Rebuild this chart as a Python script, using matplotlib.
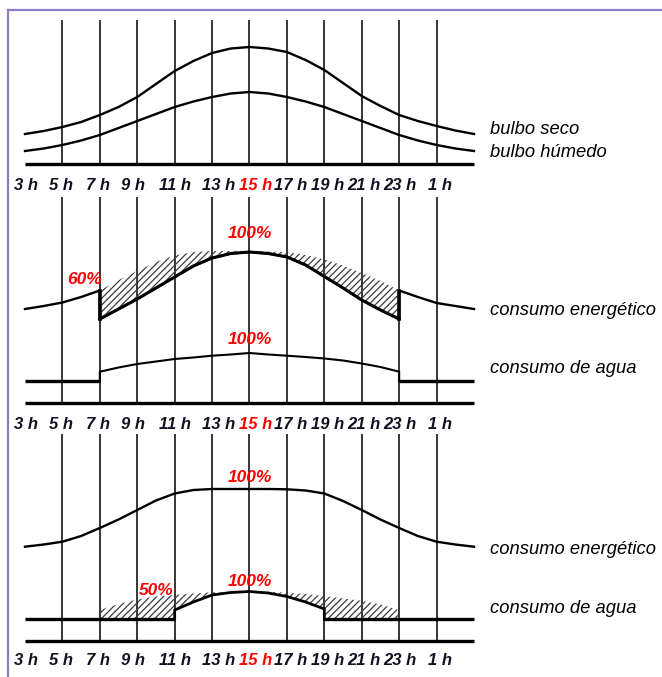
import matplotlib
matplotlib.use("Agg")
import matplotlib.pyplot as plt
from matplotlib.lines import Line2D

# ---------------- data ----------------
hours = list(range(3, 28))                      # 3 h .. 3 h (next day)
tick_hours = list(range(3, 27, 2))
tick_labels = ["3 h", "5 h", "7 h", "9 h", "11 h", "13 h", "15 h",
               "17 h", "19 h", "21 h", "23 h", "1 h"]
grid_hours = list(range(5, 27, 2))

# panel 1 : temperatures (relative units)
bulbo_seco = [30, 33, 37, 42, 49, 57, 67, 80, 93, 103, 111, 115.5, 117,
              115.5, 112, 104, 94, 81, 68, 58, 49, 43, 38, 33.5, 30]
bulbo_humedo = [13, 15.5, 19, 23.5, 29, 36, 43, 50, 57, 62.5, 67, 70.5, 72,
                70.5, 67, 62.5, 57, 50, 43, 36, 29, 23.5, 19, 15.5, 13]

# panel 2 : consumption with reduced daytime energy
p2_energia_base = [94, 97, 100.5, 106, 112.5, 123, 132, 141, 147.5, 151, 152,
                   152, 151.5, 151.5, 151, 148, 143.5, 137.5, 130, 122, 112.5,
                   106, 100, 97, 94]
p2_dia_hours = list(range(7, 24))
p2_energia_red = [84, 94, 104, 115, 126, 137, 145, 149.5, 151, 149.5, 146,
                  138, 126.5, 115, 103, 93, 84]
p2_agua_noche = 22
p2_agua_dia = [31.3, 35.5, 39, 41.5, 44, 45.5, 47.3, 48.5, 50, 48.5, 47.3,
               46, 44.5, 42.5, 39.5, 36, 31.3]

# panel 3 : constant energy, reduced water
p3_energia = [94.3, 96.5, 99.3, 105, 113, 121.5, 131, 140.5, 147.5, 151, 152,
              152, 152, 152, 151.7, 150.5, 147.5, 140, 131, 121.5, 113, 105,
              99.3, 96.5, 94.3]
p3_agua_noche = 21.7
p3_agua_dia_hours = list(range(11, 20))
p3_agua_dia = [31, 39, 46, 48.5, 49.5, 48, 44.5, 39, 32]
p3_agua_base_hours = list(range(7, 24))
p3_agua_base = [31, 37, 41.5, 44.5, 46, 47.5, 48.7, 49.3, 49.5, 49.2, 48.3,
                47, 45, 42.5, 40.3, 36.5, 31]

# ---------------- layout ----------------
W, H = 662, 677
fig = plt.figure(figsize=(W / 100, H / 100), dpi=100)
plt.rcParams['font.family'] = ['Liberation Sans', 'DejaVu Sans']
plt.rcParams['hatch.linewidth'] = 0.9

X0, X1 = 25, 474
RED = '#ff0000'
TXT = '#111122'
HATCH = '#3c3c3c'
# small horizontal nudges (px) of the hour labels as placed in the original
label_nudge = [0.5, -1.3, -2, -4.3, 0, 6.5, 6, 4, 3, 2, 1, 3]


def make_panel(top_px, base_px):
    ax = fig.add_axes([X0 / W, 1 - base_px / H, (X1 - X0) / W,
                       (base_px - top_px) / H])
    ax.set_xlim(3, 27)
    ax.set_ylim(0, base_px - top_px)
    ax.axis('off')
    ax.vlines(grid_hours, 0, base_px - top_px, color='black', lw=1.1,
              zorder=1, clip_on=False)
    ax.plot([3, 27], [0, 0], color='black', lw=2.4, solid_capstyle='butt',
            zorder=4, clip_on=False)
    return ax


def hour_row(base_px):
    for h, lab, dx in zip(tick_hours, tick_labels, label_nudge):
        xp = X0 + (h - 3) / 24 * (X1 - X0) + dx
        fig.text(xp / W, 1 - base_px / H, lab, ha='center', va='baseline',
                 fontsize=12, fontweight='bold', fontstyle='italic',
                 color=RED if lab == "15 h" else TXT)


def side_label(base_px, s):
    fig.text(490 / W, 1 - base_px / H, s, ha='left', va='baseline',
             fontsize=13.2, fontstyle='italic', color='black')


def pct(ax, x, y, s):
    ax.text(x, y, s, ha='center', va='baseline', fontsize=12.5,
            fontweight='bold', fontstyle='italic', color=RED, zorder=6)


# ----- panel 1 -----
ax1 = make_panel(20, 164)
ax1.plot(hours, bulbo_seco, color='black', lw=1.7, zorder=3, clip_on=False)
ax1.plot(hours, bulbo_humedo, color='black', lw=1.7, zorder=3, clip_on=False)
hour_row(190.5)
side_label(133.5, "bulbo seco")
side_label(157, "bulbo húmedo")

# ----- panel 2 -----
B2 = 403
ax2 = make_panel(197, B2)
base_dia = p2_energia_base[4:21]
ax2.fill_between(p2_dia_hours, p2_energia_red, base_dia, facecolor='none',
                 edgecolor=HATCH, hatch='/////', lw=0, zorder=2)
ex = hours[:5] + p2_dia_hours + hours[20:]
ey = p2_energia_base[:5] + p2_energia_red + p2_energia_base[20:]
ax2.plot(ex, ey, color='black', lw=1.7, zorder=3, clip_on=False)
ax2.plot([7, 7], [p2_energia_red[0], p2_energia_base[4]], color='black',
         lw=2.6, zorder=3)
ax2.plot([23, 23], [p2_energia_red[-1], p2_energia_base[20]], color='black',
         lw=2.6, zorder=3)
ax2.plot(p2_dia_hours, p2_energia_red, color='black', lw=2.2, zorder=3)
# water
ax2.plot([3, 7], [p2_agua_noche] * 2, color='black', lw=2.4, zorder=3,
         solid_capstyle='butt', clip_on=False)
ax2.plot([23, 27], [p2_agua_noche] * 2, color='black', lw=2.4, zorder=3,
         solid_capstyle='butt', clip_on=False)
ax2.plot([7] + p2_dia_hours + [23],
         [p2_agua_noche] + p2_agua_dia + [p2_agua_noche],
         color='black', lw=1.5, zorder=3)
pct(ax2, 15, B2 - 238.5, "100%")
pct(ax2, 15, B2 - 344, "100%")
pct(ax2, 6.2, B2 - 283.5, "60%")
hour_row(429)
side_label(315, "consumo energético")
side_label(373.5, "consumo de agua")

# ----- panel 3 -----
B3 = 641
ax3 = make_panel(434, B3)
ax3.plot(hours, p3_energia, color='black', lw=1.7, zorder=3, clip_on=False)
low_x = [7, 8, 9, 10, 11] + p3_agua_dia_hours + [19, 20, 21, 22, 23]
low_y = [p3_agua_noche] * 5 + p3_agua_dia + [p3_agua_noche] * 5
poly_x = p3_agua_base_hours + low_x[::-1]
poly_y = p3_agua_base + low_y[::-1]
ax3.fill(poly_x, poly_y, facecolor='none', edgecolor=HATCH,
         hatch='/////', lw=0, zorder=2)
ax3.plot([3, 11], [p3_agua_noche] * 2, color='black', lw=2.4, zorder=3,
         solid_capstyle='butt', clip_on=False)
ax3.plot([19, 27], [p3_agua_noche] * 2, color='black', lw=2.4, zorder=3,
         solid_capstyle='butt', clip_on=False)
ax3.plot([11] + p3_agua_dia_hours + [19],
         [p3_agua_noche] + p3_agua_dia + [p3_agua_noche],
         color='black', lw=2.0, zorder=3)
pct(ax3, 15, B3 - 481.5, "100%")
pct(ax3, 15, B3 - 586, "100%")
pct(ax3, 10.0, B3 - 595, "50%")
hour_row(665)
side_label(554, "consumo energético")
side_label(613, "consumo de agua")

# frame
fig.add_artist(Line2D([8 / W, 8 / W], [0, 1 - 10 / H], transform=fig.transFigure,
                      color='#8e7cc0', lw=1.6))
fig.add_artist(Line2D([8 / W, 1], [1 - 10 / H, 1 - 10 / H],
                      transform=fig.transFigure, color='#8e7cc0', lw=1.6))

fig.savefig("out.png", dpi=100)
